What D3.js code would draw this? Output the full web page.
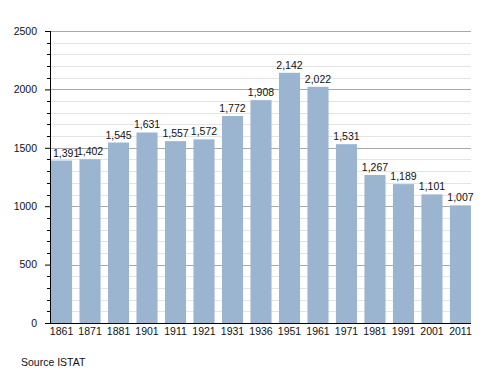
<!DOCTYPE html>
<html>
<head>
<meta charset="utf-8">
<script src="https://cdn.jsdelivr.net/npm/d3@7"></script>
<style>
body{margin:0;background:#fff;}
text{font-family:"Liberation Sans",Arial,sans-serif;}
</style>
</head>
<body>
<svg width="500" height="373"></svg>
<script>
const years=["1861","1871","1881","1901","1911","1921","1931","1936","1951","1961","1971","1981","1991","2001","2011"];
const population=[1391,1402,1545,1631,1557,1572,1772,1908,2142,2022,1531,1267,1189,1101,1007];
const yTicks=[0,500,1000,1500,2000,2500];

const svg=d3.select("svg");
const plotLeft=50, plotRight=471, plotTop=31, plotBottom=323;

const x=d3.scaleBand().domain(years).range([51,plotRight]).paddingInner(0.26).paddingOuter(0);
const y=d3.scaleLinear().domain([0,2500]).range([plotBottom,plotTop]);
const minor=d3.range(100,2500,100).filter(v=>v%500!=0);

// minor gridlines every 100
svg.append("g").selectAll("line")
   .data(minor)
   .enter().append("line")
   .attr("x1",plotLeft).attr("x2",plotRight)
   .attr("y1",d=>Math.round(y(d))+0.5).attr("y2",d=>Math.round(y(d))+0.5)
   .attr("stroke","#e4e4e4").attr("stroke-width",1);

// major gridlines
svg.append("g").selectAll("line")
   .data(yTicks.filter(v=>v>0))
   .enter().append("line")
   .attr("x1",plotLeft).attr("x2",plotRight)
   .attr("y1",d=>Math.round(y(d))+0.5).attr("y2",d=>Math.round(y(d))+0.5)
   .attr("stroke","#a8a8a8").attr("stroke-width",1);

// bars
svg.append("g").selectAll("rect")
   .data(years)
   .enter().append("rect")
   .attr("x",(d)=>x(d))
   .attr("y",(d,i)=>y(population[i]))
   .attr("width",x.bandwidth())
   .attr("height",(d,i)=>plotBottom-y(population[i]))
   .attr("fill","#9bb4cf");

// value labels (first one kept inside the plot, as in the original)
svg.append("g").selectAll("text")
   .data(years)
   .enter().append("text")
   .attr("x",(d,i)=>i==0 ? plotLeft+3 : x(d)+x.bandwidth()/2)
   .attr("y",(d,i)=>y(population[i])-4)
   .attr("text-anchor",(d,i)=>i==0 ? "start" : "middle")
   .attr("font-size","10.5px")
   .attr("fill","#111")
   .text((d,i)=>d3.format(",")(population[i]));

// y axis
const yAxis=svg.append("g").attr("transform","translate("+plotLeft+",0)")
   .call(d3.axisLeft(y).tickValues(yTicks).tickSize(5).tickPadding(8).tickFormat(d3.format("d")));
yAxis.select(".domain").remove();
yAxis.selectAll("line").attr("stroke","#000");
yAxis.selectAll("text").attr("font-size","10.5px").attr("fill","#111").style("font-family","Liberation Sans, Arial, sans-serif");

// minor ticks
svg.append("g").selectAll("line")
   .data(minor)
   .enter().append("line")
   .attr("x1",plotLeft-3).attr("x2",plotLeft)
   .attr("y1",d=>Math.round(y(d))+0.5).attr("y2",d=>Math.round(y(d))+0.5)
   .attr("stroke","#000");

svg.append("line").attr("x1",plotLeft+0.5).attr("x2",plotLeft+0.5).attr("y1",plotTop).attr("y2",plotBottom+0.5).attr("stroke","#000");

// x axis
const xAxis=svg.append("g").attr("transform","translate(0,"+plotBottom+")")
   .call(d3.axisBottom(x).tickSize(0).tickPadding(5));
xAxis.select(".domain").remove();
xAxis.selectAll("text").attr("font-size","10.5px").attr("fill","#111").style("font-family","Liberation Sans, Arial, sans-serif");
svg.append("line").attr("x1",plotLeft).attr("x2",plotRight).attr("y1",plotBottom+0.5).attr("y2",plotBottom+0.5).attr("stroke","#000");

svg.append("text").attr("x",21).attr("y",366).attr("font-size","10.5px").attr("fill","#111").text("Source ISTAT");
</script>
</body>
</html>
